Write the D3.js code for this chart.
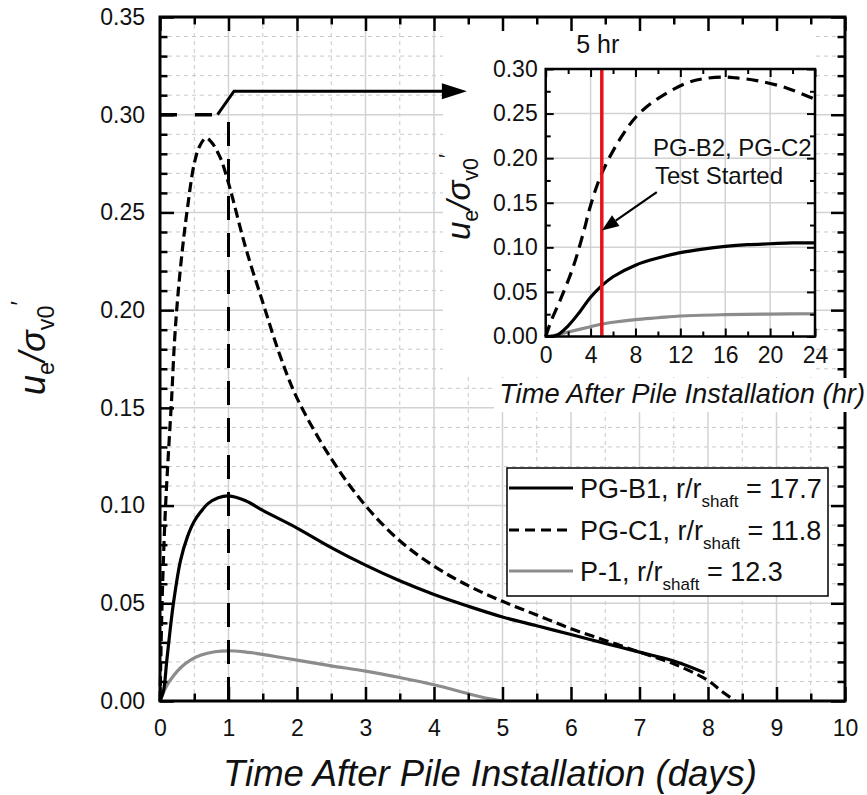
<!DOCTYPE html>
<html><head><meta charset="utf-8">
<script src="https://cdn.jsdelivr.net/npm/d3@7"></script>
<style>body{margin:0;background:#fff}svg{display:block;font-family:'Liberation Sans',Arial,sans-serif}</style>
</head><body><svg id="c" width="867" height="795"></svg>
<script>
// ---------- data (main chart, days) ----------
const pgb1Days = [0,0.05,0.1,0.15,0.2,0.3,0.4,0.5,0.6,0.7,0.85,1.0,1.25,1.5,2.0,2.5,3.0,3.5,4.0,4.5,5.0,5.5,6.0,6.5,7.0,7.5,7.95];
const pgb1Vals = [0,0.005,0.021,0.037,0.051,0.072,0.084,0.092,0.097,0.101,0.104,0.105,0.1025,0.0975,0.0885,0.0785,0.0695,0.0615,0.0545,0.0485,0.043,0.0385,0.034,0.0295,0.025,0.0205,0.0145];
const pgc1Days = [0,0.03,0.075,0.12,0.17,0.21,0.26,0.33,0.4,0.5,0.58,0.67,0.75,0.88,1.0,1.07,1.25,1.5,1.75,2.0,2.5,3.0,3.5,4.0,4.5,5.0,5.5,6.0,6.5,7.0,7.5,8.0,8.2,8.4];
const pgc1Vals = [0,0.05,0.095,0.125,0.155,0.183,0.207,0.232,0.252,0.275,0.284,0.288,0.286,0.278,0.265,0.256,0.232,0.204,0.177,0.155,0.124,0.100,0.082,0.069,0.059,0.051,0.044,0.037,0.031,0.025,0.019,0.0105,0.005,0];
const p1Days = [0,0.1,0.2,0.3,0.45,0.6,0.8,1.0,1.2,1.4,1.75,2.0,2.5,3.0,3.5,4.0,4.5,4.8,5.0];
const p1Vals = [0,0.008,0.013,0.017,0.021,0.0235,0.0252,0.0257,0.0253,0.0244,0.0224,0.0209,0.018,0.0153,0.012,0.0083,0.0037,0.0012,0];

// ---------- data (inset, hours) ----------
const inB1Hours = [0,1,2,3,4,5,6,8,10,12,14,16,18,20,22,24];
const inB1Vals  = [0,0.0015,0.012,0.027,0.044,0.057,0.067,0.080,0.088,0.094,0.098,0.101,0.103,0.104,0.105,0.105];
const inC1Hours = [0,0.5,1.3,2.45,3.35,4,5,6.6,8.1,9.9,12.5,14,15.8,17,18.8,21.4,24];
const inC1Vals  = [0,0.018,0.041,0.078,0.116,0.147,0.183,0.221,0.247,0.266,0.284,0.289,0.291,0.290,0.287,0.279,0.266];
const inP1Hours = [0,1,2,3,4,5,6,8,10,12,16,20,24];
const inP1Vals  = [0,0.002,0.005,0.008,0.011,0.014,0.016,0.019,0.021,0.023,0.0245,0.0252,0.0255];

// ---------- ticks ----------
const xTicks = [0,1,2,3,4,5,6,7,8,9,10];
const yTicks = [0,0.05,0.10,0.15,0.20,0.25,0.30,0.35];
const xInTicks = [0,4,8,12,16,20,24];
const yInTicks = [0,0.05,0.10,0.15,0.20,0.25,0.30];

// ---------- annotations ----------
const markerDay = 1;             // vertical dashed line
const markerTop = 0.30;
const arrowDays = [0,0.84,1.08,4.48];
const arrowVals = [0.30,0.30,0.312,0.312];
const testHour = 5;              // red line in inset
const noteArrowFrom = [9.9,0.162];
const noteArrowTo = [5.0,0.119];

const legendItems = [
  {name:'PG-B1, r/r', val:' = 17.7', color:'#000', dash:null},
  {name:'PG-C1, r/r', val:' = 11.8', color:'#000', dash:'10,6'},
  {name:'P-1, r/r', val:' = 12.3', color:'#8c8c8c', dash:null}
];

// ---------- drawing ----------
const svg = d3.select('#c');
const x = d3.scaleLinear().domain([0,10]).range([160,845]);
const y = d3.scaleLinear().domain([0,0.35]).range([701,17]);
const xi = d3.scaleLinear().domain([0,24]).range([545.7,815]);
const yi = d3.scaleLinear().domain([0,0.30]).range([336.5,69]);

const FS = 23;
const zip = (a,b)=>a.map((v,i)=>[v,b[i]]);
const CURVE = d3.curveCatmullRom.alpha(0.5);

// main grid
const g = svg.append('g');
const minorX = d3.range(0.5,10,1);
const majorX = d3.range(1,10,1);
const minorY = d3.range(1,35).map(i=>i/100).filter(v=>Math.round(v*100)%5!==0);
const majorY = [0.05,0.10,0.15,0.20,0.25,0.30];
g.selectAll('.mnx').data(minorX).join('line').attr('x1',d=>x(d)).attr('x2',d=>x(d)).attr('y1',y(0)).attr('y2',y(0.35))
  .attr('stroke','#c8c8c8').attr('stroke-width',1).attr('stroke-dasharray','4,4');
g.selectAll('.mny').data(minorY).join('line').attr('y1',d=>y(d)).attr('y2',d=>y(d)).attr('x1',x(0)).attr('x2',x(10))
  .attr('stroke','#c8c8c8').attr('stroke-width',1).attr('stroke-dasharray','4,4');
g.selectAll('.mjx').data(majorX).join('line').attr('x1',d=>x(d)).attr('x2',d=>x(d)).attr('y1',y(0)).attr('y2',y(0.35))
  .attr('stroke','#d2d2d2').attr('stroke-width',1.5);
g.selectAll('.mjy').data(majorY).join('line').attr('y1',d=>y(d)).attr('y2',d=>y(d)).attr('x1',x(0)).attr('x2',x(10))
  .attr('stroke','#d2d2d2').attr('stroke-width',1.5);

// white background of inset
svg.append('rect').attr('x',443).attr('y',19).attr('width',815-443).attr('height',377-19).attr('fill','#fff');

// main curves
const line = d3.line().x(d=>x(d[0])).y(d=>y(d[1])).curve(CURVE);
svg.append('path').attr('d',line(zip(p1Days,p1Vals))).attr('fill','none').attr('stroke','#8c8c8c').attr('stroke-width',3.2);
svg.append('path').attr('d',line(zip(pgb1Days,pgb1Vals))).attr('fill','none').attr('stroke','#000').attr('stroke-width',3.2);
svg.append('path').attr('d',line(zip(pgc1Days,pgc1Vals))).attr('fill','none').attr('stroke','#000').attr('stroke-width',3.2).attr('stroke-dasharray','10,5');

// vertical dashed marker
svg.append('line').attr('x1',x(markerDay)).attr('x2',x(markerDay)).attr('y1',y(0)).attr('y2',y(markerTop))
  .attr('stroke','#000').attr('stroke-width',3).attr('stroke-dasharray','24,13');

// arrow: dashed then solid
svg.append('line').attr('x1',x(arrowDays[0])).attr('y1',y(arrowVals[0])).attr('x2',x(arrowDays[1])).attr('y2',y(arrowVals[1]))
  .attr('stroke','#000').attr('stroke-width',3.5).attr('stroke-dasharray','17,18');
{
  const tip=[x(arrowDays[3]),y(arrowVals[3])];
  const pts=[[x(arrowDays[1]),y(arrowVals[1])],[x(arrowDays[2]),y(arrowVals[2])],[tip[0]-20,tip[1]]];
  svg.append('path').attr('d',d3.line()(pts)).attr('fill','none').attr('stroke','#000').attr('stroke-width',3);
  svg.append('path').attr('d',`M${tip[0]},${tip[1]}L${tip[0]-25},${tip[1]-8}L${tip[0]-25},${tip[1]+8}Z`).attr('fill','#000');
}

// main axes (ticks inward)
function axisGroup(axis, tf){ const a=svg.append('g').attr('transform',tf).call(axis); a.select('.domain').remove(); a.selectAll('line').attr('stroke','#000').attr('stroke-width',2.5); a.selectAll('text').attr('font-size',FS).attr('font-family',"'Liberation Sans',Arial,sans-serif").attr('fill','#111'); return a; }
axisGroup(d3.axisBottom(x).tickValues(xTicks).tickSize(-14).tickSizeOuter(0).tickPadding(19).tickFormat(d3.format('d')), `translate(0,${y(0)})`);
axisGroup(d3.axisBottom(x).tickValues(minorX).tickSize(-7.5).tickSizeOuter(0).tickFormat(''), `translate(0,${y(0)})`);
axisGroup(d3.axisTop(x).tickValues(xTicks).tickSize(-14).tickSizeOuter(0).tickFormat(''), `translate(0,${y(0.35)})`);
axisGroup(d3.axisTop(x).tickValues(minorX).tickSize(-7.5).tickSizeOuter(0).tickFormat(''), `translate(0,${y(0.35)})`);
axisGroup(d3.axisLeft(y).tickValues(yTicks).tickSize(-14).tickSizeOuter(0).tickPadding(15).tickFormat(d3.format('.2f')), `translate(${x(0)},0)`);
axisGroup(d3.axisLeft(y).tickValues(minorY).tickSize(-7.5).tickSizeOuter(0).tickFormat(''), `translate(${x(0)},0)`);
axisGroup(d3.axisRight(y).tickValues(yTicks).tickSize(-14).tickSizeOuter(0).tickFormat(''), `translate(${x(10)},0)`);
axisGroup(d3.axisRight(y).tickValues(minorY).tickSize(-7.5).tickSizeOuter(0).tickFormat(''), `translate(${x(10)},0)`);
svg.append('rect').attr('x',x(0)).attr('y',y(0.35)).attr('width',x(10)-x(0)).attr('height',y(0)-y(0.35))
  .attr('fill','none').attr('stroke','#000').attr('stroke-width',3);

// main axis titles
svg.append('text').attr('x',490).attr('y',786).attr('text-anchor','middle').attr('font-size',36.5).attr('font-style','italic').attr('fill','#111')
  .text('Time After Pile Installation (days)');
function ratioLabel(tx,ty,fs){
  const t=svg.append('text').attr('transform',`translate(${tx},${ty}) rotate(-90)`).attr('text-anchor','middle').attr('font-size',fs).attr('fill','#111');
  const s=fs*0.24;
  t.append('tspan').attr('font-style','italic').text('u');
  t.append('tspan').attr('font-size',fs*0.65).attr('dy',s).text('e');
  t.append('tspan').attr('font-style','italic').attr('dy',-s).text('/');
  t.append('tspan').attr('font-style','italic').text('σ');
  t.append('tspan').attr('font-size',fs*0.65).attr('dy',s).text('v0');
  t.append('tspan').attr('font-size',fs*0.65).attr('dy',-fs*0.72).text('′');
}
ratioLabel(45,348,36);

// legend
{
  const lx=507, ly=468, lw=321, lh=128;
  svg.append('rect').attr('x',lx).attr('y',ly).attr('width',lw).attr('height',lh).attr('fill','#fff').attr('stroke','#000').attr('stroke-width',1.5);
  const rows=[488,530,571];
  legendItems.forEach((it,i)=>{
    const cy=rows[i];
    const l=svg.append('line').attr('x1',lx+2).attr('x2',573).attr('y1',cy).attr('y2',cy).attr('stroke',it.color).attr('stroke-width',3.2);
    if(it.dash) l.attr('stroke-dasharray',it.dash);
    const t=svg.append('text').attr('x',580).attr('y',cy+9.5).attr('font-size',27).attr('fill','#111');
    t.append('tspan').text(it.name);
    t.append('tspan').attr('font-size',17).attr('dy',9).text('shaft');
    t.append('tspan').attr('dy',-9).text(it.val);
  });
}

// inset title background over main frame
svg.append('rect').attr('x',494).attr('y',378).attr('width',867-494).attr('height',412-378).attr('fill','#fff');
svg.append('text').attr('x',865).attr('y',403).attr('text-anchor','end').attr('font-size',27.3).attr('font-style','italic').attr('fill','#111')
  .text('Time After Pile Installation (hr)');

// ---------- inset ----------
const ig = svg.append('g');
const inMinorX = d3.range(2,24,4);
const inMinorY = [0.025,0.075,0.125,0.175,0.225,0.275];
ig.selectAll('.gx').data(xInTicks.slice(1,-1)).join('line').attr('x1',d=>xi(d)).attr('x2',d=>xi(d)).attr('y1',yi(0)).attr('y2',yi(0.30)).attr('stroke','#d2d2d2').attr('stroke-width',1.5);
ig.selectAll('.gy').data(yInTicks.slice(1,-1)).join('line').attr('y1',d=>yi(d)).attr('y2',d=>yi(d)).attr('x1',xi(0)).attr('x2',xi(24)).attr('stroke','#d2d2d2').attr('stroke-width',1.5);

const iline = d3.line().x(d=>xi(d[0])).y(d=>yi(d[1])).curve(CURVE);
ig.append('path').attr('d',iline(zip(inP1Hours,inP1Vals))).attr('fill','none').attr('stroke','#8c8c8c').attr('stroke-width',3.2);
ig.append('path').attr('d',iline(zip(inB1Hours,inB1Vals))).attr('fill','none').attr('stroke','#000').attr('stroke-width',3.2);
ig.append('path').attr('d',iline(zip(inC1Hours,inC1Vals))).attr('fill','none').attr('stroke','#000').attr('stroke-width',3.2).attr('stroke-dasharray','12,7');

// red line
ig.append('line').attr('x1',xi(testHour)).attr('x2',xi(testHour)).attr('y1',yi(0)).attr('y2',yi(0.30)).attr('stroke','#e8141b').attr('stroke-width',3.5);

function iaxis(axis, tf){ const a=ig.append('g').attr('transform',tf).call(axis); a.select('.domain').remove(); a.selectAll('line').attr('stroke','#000').attr('stroke-width',2); a.selectAll('text').attr('font-size',FS).attr('font-family',"'Liberation Sans',Arial,sans-serif").attr('fill','#111'); return a; }
iaxis(d3.axisBottom(xi).tickValues(xInTicks).tickSize(-8).tickSizeOuter(0).tickPadding(10).tickFormat(d3.format('d')), `translate(0,${yi(0)})`);
iaxis(d3.axisBottom(xi).tickValues(inMinorX).tickSize(-5).tickSizeOuter(0).tickFormat(''), `translate(0,${yi(0)})`);
iaxis(d3.axisTop(xi).tickValues(xInTicks).tickSize(-8).tickSizeOuter(0).tickFormat(''), `translate(0,${yi(0.30)})`);
iaxis(d3.axisTop(xi).tickValues(inMinorX).tickSize(-5).tickSizeOuter(0).tickFormat(''), `translate(0,${yi(0.30)})`);
iaxis(d3.axisLeft(yi).tickValues(yInTicks).tickSize(-8).tickSizeOuter(0).tickPadding(8).tickFormat(d3.format('.2f')), `translate(${xi(0)},0)`);
iaxis(d3.axisLeft(yi).tickValues(inMinorY).tickSize(-5).tickSizeOuter(0).tickFormat(''), `translate(${xi(0)},0)`);
iaxis(d3.axisRight(yi).tickValues(yInTicks).tickSize(-8).tickSizeOuter(0).tickFormat(''), `translate(${xi(24)},0)`);
iaxis(d3.axisRight(yi).tickValues(inMinorY).tickSize(-5).tickSizeOuter(0).tickFormat(''), `translate(${xi(24)},0)`);
ig.append('rect').attr('x',xi(0)).attr('y',yi(0.30)).attr('width',xi(24)-xi(0)).attr('height',yi(0)-yi(0.30))
  .attr('fill','none').attr('stroke','#000').attr('stroke-width',2.5);

ratioLabel(470,197,33);
svg.append('text').attr('x',xi(testHour)-4).attr('y',53).attr('text-anchor','middle').attr('font-size',25).attr('fill','#111').text('5 hr');
svg.append('text').attr('x',653).attr('y',156).attr('font-size',24).attr('fill','#111').text('PG-B2, PG-C2');
svg.append('text').attr('x',655).attr('y',184).attr('font-size',24).attr('fill','#111').text('Test Started');
{
  const a=[xi(noteArrowFrom[0]),yi(noteArrowFrom[1])], b=[xi(noteArrowTo[0]),yi(noteArrowTo[1])];
  const ang=Math.atan2(b[1]-a[1],b[0]-a[0]), L=17, Wd=6.5;
  const back=[b[0]-L*Math.cos(ang), b[1]-L*Math.sin(ang)];
  svg.append('line').attr('x1',a[0]).attr('y1',a[1]).attr('x2',back[0]).attr('y2',back[1]).attr('stroke','#000').attr('stroke-width',2.2);
  const p1=[back[0]+Wd*Math.sin(ang), back[1]-Wd*Math.cos(ang)], p2=[back[0]-Wd*Math.sin(ang), back[1]+Wd*Math.cos(ang)];
  svg.append('path').attr('d',`M${b[0]},${b[1]}L${p1[0]},${p1[1]}L${p2[0]},${p2[1]}Z`).attr('fill','#000');
}
</script></body></html>
